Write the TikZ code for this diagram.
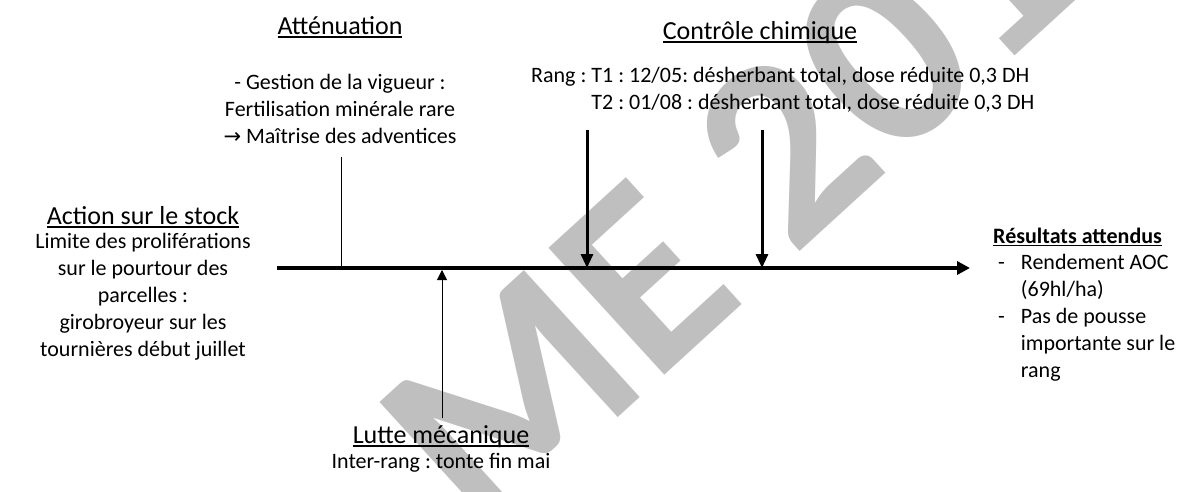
\documentclass[tikz,border=0pt]{standalone}
\usepackage{fontspec}
\setmainfont{Carlito}
\newfontfamily\symfont{DejaVu Sans}
\usetikzlibrary{arrows.meta}
\frenchspacing
\newcommand{\undl}[1]{\setbox0=\hbox{#1}\rlap{\rule[-0.12em]{\wd0}{0.06em}}\box0}
\tikzset{
  titre/.style={font=\fontsize{26}{32}\selectfont, inner sep=0pt},
  texte/.style={font=\fontsize{22}{27}\selectfont, align=center, inner sep=0pt},
  axe/.style={line width=3.5pt, -{Triangle[length=13pt,width=13pt]}},
  fleche/.style={line width=3pt, -{Triangle[length=14pt,width=12pt]}},
  trait/.style={line width=0.8pt},
  filigrane/.style={black!25, font=\fontsize{265}{265}\bfseries\selectfont, inner sep=0pt, rotate=42.4}
}
\begin{document}
\begin{tikzpicture}[x=1pt,y=-1pt]
    \useasboundingbox (0,0) rectangle (1178,492);
    % watermark behind everything
    \node[filigrane] (filigr) at (729,200) {ME 201};

    % time axis
    \coordinate (axeL) at (277,268); \coordinate (axeR) at (970,268);
    \draw[axe] (axeL) -- (axeR);

    % Attenuation (top left)
    \node[titre] (att) at (340,27) {\undl{Atténuation}};
    \node[texte] (attTxt) at (340,109) {- Gestion de la vigueur :\\Fertilisation minérale rare\\{\symfont\fontsize{21}{27}\selectfont →} Maîtrise des adventices};
    \coordinate (attH) at (341,157); \coordinate (attB) at (341,268);
    \draw[trait] (attH) -- (attB);

    % Controle chimique (top right)
    \node[titre] (chim) at (760,33) {\undl{Contrôle chimique}};
    \node[texte, align=left, anchor=west] (chimTxt) at (531,90) {Rang : T1 : 12/05: désherbant total, dose réduite 0,3 DH\\\phantom{Rang :} T2 : 01/08 : désherbant total, dose réduite 0,3 DH};
    \coordinate (t1H) at (587,130); \coordinate (t1B) at (587,268);
    \coordinate (t2H) at (762,130); \coordinate (t2B) at (762,268);
    \draw[fleche] (t1H) -- (t1B);
    \draw[fleche] (t2H) -- (t2B);

    % Action sur le stock (left)
    \node[titre] (stock) at (143,217) {\undl{Action sur le stock}};
    \node[texte] (stockTxt) at (143,297) {Limite des proliférations\\sur le pourtour des\\parcelles :\\girobroyeur sur les\\tournières début juillet};

    % Lutte mecanique (bottom)
    \node[titre] (lutte) at (441,437) {\undl{Lutte mécanique}};
    \node[texte] (lutteTxt) at (441,463) {Inter-rang : tonte fin mai};
    \coordinate (lutB) at (442,418); \coordinate (lutH) at (442,270);
    \draw[trait, -{Triangle[length=10pt,width=10pt]}] (lutB) -- (lutH);

    % Resultats attendus (right)
    \node[font=\fontsize{22}{27}\selectfont, inner sep=0pt, anchor=west] (res) at (993,237) {\undl{\bfseries Résultats attendus}};
    \node[texte, align=left, anchor=north west] (resTxt) at (998,250) {%
      \begin{tabular}{@{}l@{\hspace{16pt}}l@{}}
        - & Rendement AOC\\
          & (69hl/ha)\\
        - & Pas de pousse\\
          & importante sur le\\
          & rang
      \end{tabular}};
\end{tikzpicture}
\end{document}
